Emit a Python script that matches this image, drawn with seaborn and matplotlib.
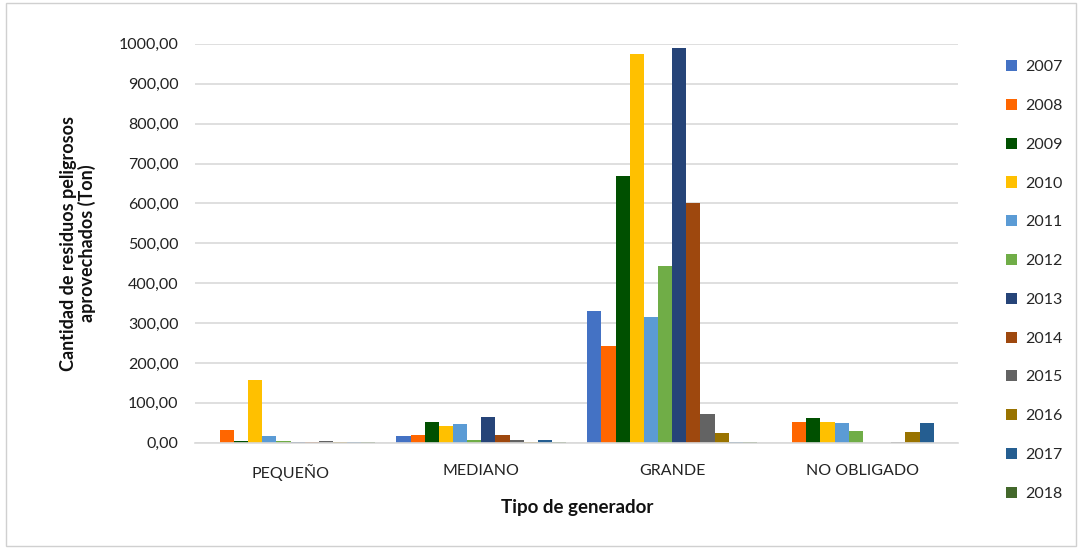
import numpy as np
import pandas as pd
import matplotlib
matplotlib.use("Agg")
import matplotlib.pyplot as plt
from matplotlib.patches import Rectangle
from matplotlib.ticker import FuncFormatter, MultipleLocator
import seaborn as sns

# Tipos de generador y años
categorias = ["PEQUEÑO", "MEDIANO", "GRANDE", "NO OBLIGADO"]
anios = ["2007", "2008", "2009", "2010", "2011", "2012",
         "2013", "2014", "2015", "2016", "2017", "2018"]

# Toneladas aprovechadas por año (PEQUEÑO, MEDIANO, GRANDE, NO OBLIGADO)
v2007 = [0.5, 17, 330, 0.5]
v2008 = [33, 20, 243, 52]
v2009 = [5, 52, 668, 63]
v2010 = [158, 42, 975, 52]
v2011 = [18, 46, 315, 50]
v2012 = [5, 8, 442, 30]
v2013 = [2, 65, 990, 0.5]
v2014 = [3, 20, 600, 0.5]
v2015 = [4, 8, 72, 1]
v2016 = [3, 3, 25, 28]
v2017 = [2, 6, 3, 50]
v2018 = [1, 2, 1, 0.5]

colores = ["#4472C4", "#FF6600", "#005000", "#FFC000", "#5B9BD5", "#70AD47",
           "#264478", "#9E480E", "#636363", "#997300", "#255E91", "#43682B"]

series = [v2007, v2008, v2009, v2010, v2011, v2012,
          v2013, v2014, v2015, v2016, v2017, v2018]
df = pd.DataFrame(
    [(c, a, s[i]) for a, s in zip(anios, series) for i, c in enumerate(categorias)],
    columns=["Tipo", "Año", "Toneladas"],
)

sns.set_theme(style="white")
plt.rcParams["font.family"] = ["Lato", "DejaVu Sans"]

fig = plt.figure(figsize=(10.78, 5.48), dpi=100)
ax = fig.add_axes([0.181, 0.192, 0.708, 0.728])

sns.barplot(data=df, x="Tipo", y="Toneladas", hue="Año", order=categorias,
            hue_order=anios, palette=colores, saturation=1, width=0.89,
            ax=ax, legend=False, edgecolor="none")

ax.set_ylim(0, 1000)
ax.yaxis.set_major_locator(MultipleLocator(100))
ax.yaxis.set_major_formatter(FuncFormatter(lambda v, p: f"{v:.2f}".replace(".", ",")))
ax.grid(axis="y", color="#D9D9D9", linewidth=1.2)
ax.set_axisbelow(True)
for s in ["top", "right", "left"]:
    ax.spines[s].set_visible(False)
ax.spines["bottom"].set_color("#D9D9D9")
ax.spines["bottom"].set_linewidth(1.2)

ax.tick_params(axis="y", labelsize=11.5, colors="#222222", length=0, pad=12)
ax.tick_params(axis="x", labelsize=11.5, colors="#222222", length=0, pad=15)

ax.set_xlabel("Tipo de generador", fontsize=13.5, fontweight="bold",
              color="#111111", labelpad=13)
ax.set_ylabel("Cantidad de residuos peligrosos\naprovechados (Ton)", fontsize=13,
              fontweight="bold", color="#111111", labelpad=16, linespacing=1.1)

# Leyenda a la derecha
handles = [Rectangle((0, 0), 1, 1, facecolor=c, edgecolor="none") for c in colores]
fig.legend(handles, anios, loc="upper left", bbox_to_anchor=(0.927, 0.902),
           frameon=False, fontsize=11.5, handlelength=0.7, handleheight=0.7,
           handletextpad=0.5, labelspacing=1.54, borderaxespad=0)

# Marco de la figura
fig.patches.append(Rectangle((0.006, 0.004), 0.992, 0.99, transform=fig.transFigure,
                             fill=False, edgecolor="#D0D0D0", linewidth=1))

fig.savefig("out.png", dpi=100, facecolor="white")
